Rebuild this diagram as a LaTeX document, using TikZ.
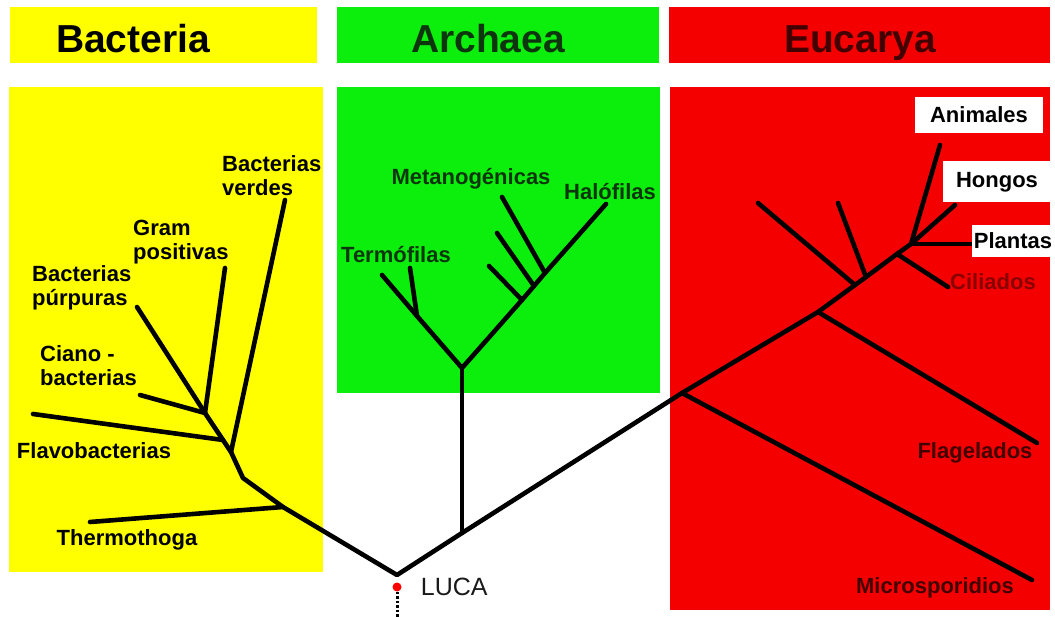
\documentclass[tikz,border=0pt]{standalone}
\usepackage{fontspec}
\setmainfont{Liberation Sans}
\usetikzlibrary{positioning}
\definecolor{cyellow}{HTML}{FFFF00}
\definecolor{cgreen}{HTML}{0CEE0C}
\definecolor{cred}{HTML}{F40000}
\definecolor{cdarkgreen}{HTML}{0E360E}
\definecolor{cdarkred}{HTML}{420000}
\definecolor{cwine}{HTML}{8A0000}
\tikzset{
  panel/.style={fill=#1, draw=none},
  domainname/.style={font=\fontsize{39}{39}\selectfont\bfseries, anchor=base, inner sep=0pt},
  taxon/.style={font=\fontsize{22}{24}\selectfont\bfseries, inner sep=0pt, align=left},
  labelbox/.style={taxon, fill=white, align=center},
  treeline/.style={line width=4.6pt, line cap=round, line join=round},
}

\begin{document}
\begin{tikzpicture}[x=1pt, y=-1pt]
  \useasboundingbox[fill=white] (0,0) rectangle (1055,617);
  \fill[panel=cyellow] (10,7) rectangle (317,63);
  \fill[panel=cgreen] (337,7) rectangle (659,63);
  \fill[panel=cred] (669,7) rectangle (1050,63);
  \fill[panel=cyellow] (9,87) rectangle (323,572);
  \fill[panel=cgreen] (337,87) rectangle (660,393);
  \fill[panel=cred] (670,87) rectangle (1050,610);
  \node[domainname] (hbac) at (133,53) {Bacteria};
  \node[domainname, text=cdarkgreen] (harc) at (488,53) {Archaea};
  \node[domainname, text=cdarkred] (heuc) at (860,53) {Eucarya};

  \coordinate (luca) at (397,575);
  \coordinate (b1) at (283,507); \coordinate (b2) at (243,478); \coordinate (b3) at (231,452);
  \coordinate (b4) at (223,440); \coordinate (b5) at (205,413);
  \coordinate (tthermo) at (90,522); \coordinate (tverdes) at (285,200); \coordinate (tflavo) at (33,414);
  \coordinate (tgram) at (225,268); \coordinate (tpurp) at (137,307); \coordinate (tciano) at (140,395);
  \coordinate (a0) at (462,533); \coordinate (a1) at (462,368); \coordinate (a2) at (417,316);
  \coordinate (m1) at (545,273); \coordinate (m2) at (534,286); \coordinate (m3) at (522,300);
  \coordinate (tterm) at (382,275); \coordinate (tterm2) at (410,268); \coordinate (thalo) at (606,204);
  \coordinate (tmet1) at (502,197); \coordinate (tmet2) at (497,233); \coordinate (tmet3) at (489,266);
  \coordinate (e1) at (682,393); \coordinate (e2) at (818,312); \coordinate (e3) at (855,285);
  \coordinate (e4) at (866,277); \coordinate (e5) at (897,254); \coordinate (e6) at (911,244);
  \coordinate (tmicro) at (1032,580); \coordinate (tflag) at (1037,443); \coordinate (tleft1) at (758,203);
  \coordinate (tleft2) at (838,203); \coordinate (tcil) at (948,287); \coordinate (tanim) at (940,145);
  \coordinate (thong) at (955,205); \coordinate (tplan) at (972,244);

  \draw[treeline] (b5) -- (b4) -- (b3) -- (b2) -- (b1) -- (luca) -- (a0) -- (e1) -- (e2) -- (e3) -- (e4) -- (e5) -- (e6);
  \draw[treeline] (b1) -- (tthermo); \draw[treeline] (b3) -- (tverdes); \draw[treeline] (b4) -- (tflavo);
  \draw[treeline] (b5) -- (tgram); \draw[treeline] (b5) -- (tpurp); \draw[treeline] (b5) -- (tciano);
  \draw[treeline] (a0) -- (a1);
  \draw[treeline] (tterm) -- (a2) -- (a1) -- (m3) -- (m2) -- (m1) -- (thalo);
  \draw[treeline] (a2) -- (tterm2); \draw[treeline] (m1) -- (tmet1);
  \draw[treeline] (m2) -- (tmet2); \draw[treeline] (m3) -- (tmet3);
  \draw[treeline] (e1) -- (tmicro); \draw[treeline] (e2) -- (tflag); \draw[treeline] (e3) -- (tleft1);
  \draw[treeline] (e4) -- (tleft2); \draw[treeline] (e5) -- (tcil); \draw[treeline] (e6) -- (tanim);
  \draw[treeline] (e6) -- (thong); \draw[treeline] (e6) -- (tplan);

  \node[circle, fill=red, inner sep=0pt, minimum size=9pt] (ldot) at (397,587) {};
  \coordinate (stem) at (397,617);
  \draw[line width=3pt, dash pattern=on 2.5pt off 2pt] (ldot) -- (stem);
  \node[font=\fontsize{25}{25}\selectfont, text=black!90, inner sep=0pt, right=19pt of ldot] (lucaname) {LUCA};

  \node[taxon, anchor=west] (nverdes) at (222,176) {Bacterias\\verdes};
  \node[taxon, anchor=west] (ngram) at (133,242) {Gram\\positivas};
  \node[taxon, anchor=west] (npurp) at (32,288) {Bacterias\\púrpuras};
  \node[taxon, anchor=west] (nciano) at (40,366) {Ciano -\\bacterias};
  \node[taxon, anchor=base] (nflavo) at (94,458) {Flavobacterias};
  \node[taxon, anchor=base] (nthermo) at (127,545) {Thermothoga};
  \node[taxon, anchor=base, text=cdarkgreen] (nmet) at (471,185) {Metanogénicas};
  \node[taxon, anchor=base, text=cdarkgreen] (nhalo) at (610,200) {Halófilas};
  \node[taxon, anchor=base, text=cdarkgreen] (nterm) at (396,263) {Termófilas};
  \node[labelbox, minimum width=128pt, minimum height=36pt] (nanim) at (979,115) {Animales};
  \node[labelbox, minimum width=109pt, minimum height=41pt] (nhong) at (997,182) {Hongos};
  \node[labelbox, minimum width=83pt, minimum height=32pt] (nplan) at (1013,241) {Plantas};
  \node[taxon, anchor=base, text=cwine] (ncil) at (993,290) {Ciliados};
  \node[taxon, anchor=base, text=cdarkred] (nflag) at (975,458) {Flagelados};
  \node[taxon, anchor=base, text=cdarkred] (nmicro) at (935,593) {Microsporidios};
\end{tikzpicture}
\end{document}
